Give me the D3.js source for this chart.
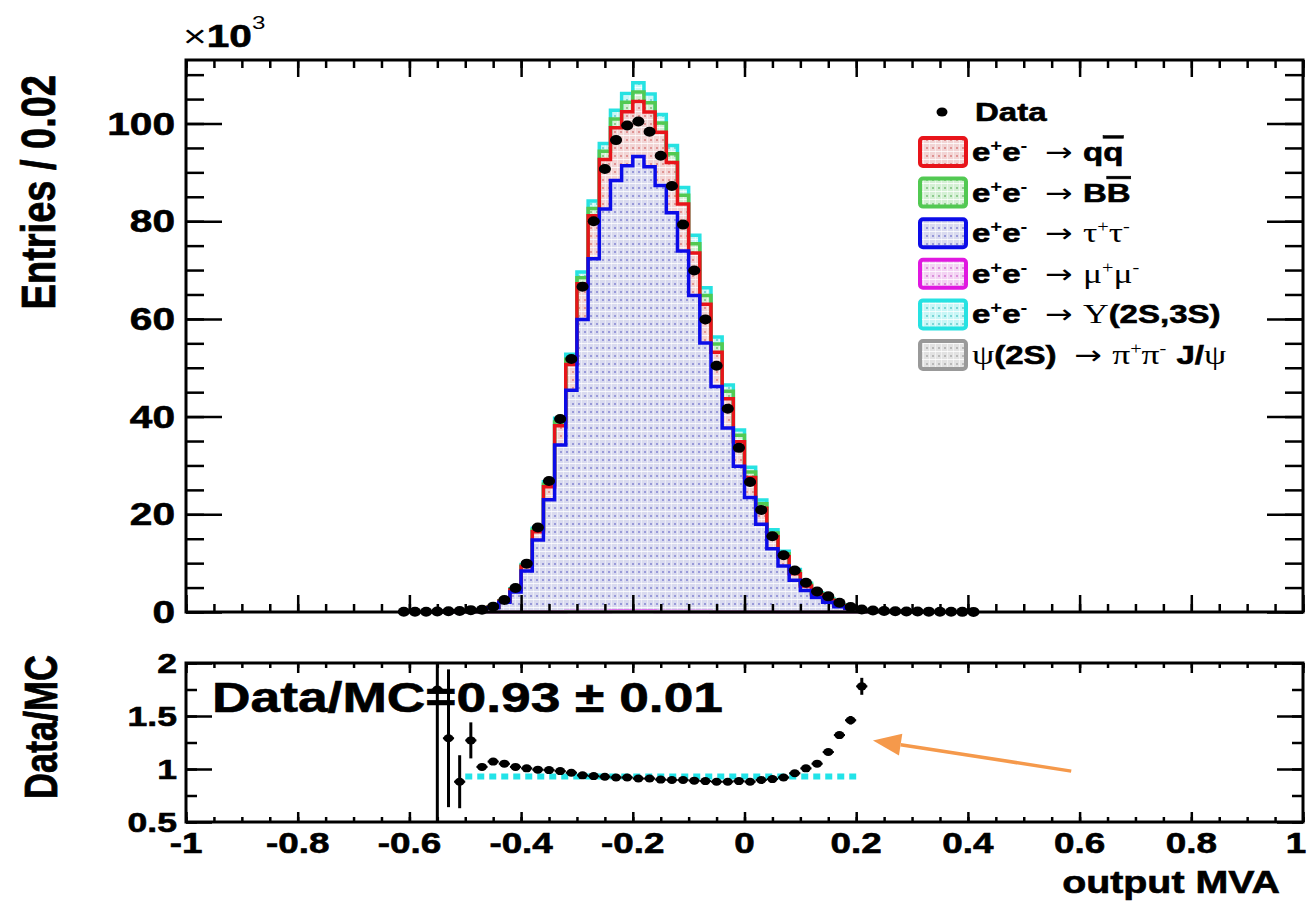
<!DOCTYPE html>
<html>
<head>
<meta charset="utf-8">
<script src="https://cdn.jsdelivr.net/npm/d3@7"></script>
<style>
  body { margin: 0; background: #fff; }
  text { font-family: "Liberation Sans", Arial, sans-serif; font-weight: bold; fill: #000; }
  .heavy { stroke: #000; stroke-width: 0.6; }
</style>
</head>
<body>
<svg id="chart" width="1311" height="901"></svg>
<script>
// ---- data (in units of 10^3 entries, bins of 0.02) ----
var mcCenters = [-0.55,-0.53,-0.51,-0.49,-0.47,-0.45,-0.43,-0.41,-0.39,-0.37,-0.35,-0.33,-0.31,-0.29,-0.27,-0.25,-0.23,-0.21,-0.19,-0.17,
                 -0.15,-0.13,-0.11,-0.09,-0.07,-0.05,-0.03,-0.01,0.01,0.03,0.05,0.07,0.09,0.11,0.13,0.15,0.17,0.19,0.21];

var psiJpsi = [0,0,0,0,0,0,0,0,0.01,0.01,0.02,0.02,0.03,0.03,0.04,0.04,0.04,0.04,0.04,0.04,0.04,0.04,0.03,0.03,0.03,0.02,0.02,0.02,0.01,0.01,0.01,0,0,0,0,0,0,0,0];
var muMu    = [0,0,0,0,0,0,0,0.01,0.02,0.03,0.04,0.05,0.06,0.07,0.08,0.08,0.09,0.09,0.09,0.09,0.08,0.08,0.07,0.07,0.06,0.05,0.05,0.04,0.03,0.03,0.02,0.02,0.01,0.01,0,0,0,0,0];
var tauTau  = [0.04,0.1,0.21,0.26,0.39,0.86,1.98,4.08,8.34,14.7,22.9,34.1,45.3,59.8,72.2,82.4,88.2,91.2,93.1,91.0,
               87.2,81.6,73.8,64.7,55.0,46.1,37.6,29.8,23.4,17.9,12.9,9.4,6.5,4.4,2.95,2.0,1.08,0.52,0.21];
var qqbar   = [0.01,0.02,0.03,0.03,0.05,0.1,0.23,0.48,0.97,1.71,2.66,3.96,5.3,7.3,8.8,10.1,10.8,11.1,11.3,11.2,
               10.9,10.3,9.6,8.7,7.9,7.0,6.0,5.0,4.1,3.3,2.5,1.9,1.3,0.9,0.6,0.4,0.22,0.11,0.04];
var bbbar   = [0,0,0.01,0.01,0.01,0.02,0.05,0.1,0.2,0.35,0.53,0.79,1.05,1.25,1.5,1.7,1.8,1.9,1.9,1.9,
               1.9,1.8,1.8,1.9,1.8,1.7,1.5,1.3,1.1,0.9,0.75,0.6,0.45,0.3,0.2,0.15,0.08,0.04,0.02];
var upsilon = [0,0,0,0,0,0.02,0.04,0.09,0.19,0.34,0.51,0.75,1.0,1.15,1.5,1.6,1.8,1.8,1.9,1.8,
               1.7,1.7,1.6,1.7,1.6,1.4,1.3,1.1,1.0,0.8,0.65,0.5,0.45,0.3,0.2,0.15,0.07,0.03,0.01];

var dataCenters = [-0.61,-0.59,-0.57,-0.55,-0.53,-0.51,-0.49,-0.47,-0.45,-0.43,-0.41,-0.39,-0.37,-0.35,-0.33,-0.31,-0.29,-0.27,-0.25,-0.23,
                   -0.21,-0.19,-0.17,-0.15,-0.13,-0.11,-0.09,-0.07,-0.05,-0.03,-0.01,0.01,0.03,0.05,0.07,0.09,0.11,0.13,0.15,0.17,
                   0.19,0.21,0.23,0.25,0.27,0.29,0.31,0.33,0.35,0.37,0.39,0.41];
var dataVals = [0.05,0.04,0.06,0.1,0.15,0.22,0.38,0.46,1.1,2.45,4.9,9.9,17.3,26.8,39.5,51.8,66.6,80.0,90.7,96.6,
                99.6,100.4,98.3,93.4,87.2,79.3,69.9,59.9,50.4,41.6,33.6,26.6,20.9,15.5,11.6,8.5,6.0,4.2,3.2,1.9,
                1.0,0.5,0.3,0.22,0.15,0.12,0.1,0.07,0.05,0.04,0.03,0.02];

// ratio panel (same bins as MC)
var ratioVals = [1.75,1.29,0.88,1.27,1.02,1.07,1.05,1.02,1.006,0.994,0.99,0.98,0.965,0.94,0.933,0.927,0.92,0.92,0.91,0.91,
                 0.90,0.896,0.896,0.89,0.886,0.88,0.88,0.886,0.88,0.896,0.905,0.92,0.96,1.006,1.05,1.16,1.32,1.46,1.78];
var ratioErrs = [2.0,0.65,0.25,0.17,0.03,0.02,0.015,0.01,0.01,0.01,0.01,0.01,0.01,0.01,0.01,0.01,0.01,0.01,0.01,0.01,
                 0.01,0.01,0.01,0.01,0.01,0.01,0.01,0.01,0.01,0.01,0.01,0.01,0.01,0.015,0.02,0.02,0.03,0.04,0.08];
var fitValue = 0.93, fitRange = [-0.5, 0.2];

var xTicks = [-1,-0.8,-0.6,-0.4,-0.2,0,0.2,0.4,0.6,0.8,1];
var xTickLabels = ['-1','-0.8','-0.6','-0.4','-0.2','0','0.2','0.4','0.6','0.8','1'];
var yTicks = [0,20,40,60,80,100];
var yTickLabels = ['0','20','40','60','80','100'];
var rTicks = [0.5,1,1.5,2];
var rTickLabels = ['0.5','1','1.5','2'];

var binW = 0.02;
var SX = 1.27;   // text in the reference is stretched sideways

var svg = d3.select('#chart');
var defs = svg.append('defs');

var x  = d3.scaleLinear().domain([-1, 1]).range([186, 1303]);
var y  = d3.scaleLinear().domain([0, 113]).range([612, 60]);
var yr = d3.scaleLinear().domain([0.5, 2]).range([822, 663]);

// fill patterns, roughly like ROOT's dotted hatch
function pattern(id, bg, dot) {
    var p = defs.append('pattern').attr('id', id).attr('patternUnits', 'userSpaceOnUse')
        .attr('width', 6).attr('height', 8);
    p.append('rect').attr('width', 6).attr('height', 8).attr('fill', bg);
    p.append('rect').attr('y', 7).attr('width', 6).attr('height', 1).attr('fill', '#fff').attr('opacity', 0.8);
    p.append('rect').attr('x', 5).attr('width', 1).attr('height', 8).attr('fill', '#fff').attr('opacity', 0.5);
    p.append('rect').attr('x', 2).attr('y', 3).attr('width', 2).attr('height', 2).attr('fill', dot).attr('opacity', 0.45);
}

var comps = [
    {key: 'psi',  vals: psiJpsi, line: '#999999', bg: '#e2e2e2', dot: '#888'},
    {key: 'mumu', vals: muMu,    line: '#e018e0', bg: '#f3d3f3', dot: '#c040c0'},
    {key: 'tau',  vals: tauTau,  line: '#0c0ce8', bg: '#d9daef', dot: '#4a4ac0'},
    {key: 'qq',   vals: qqbar,   line: '#e8141a', bg: '#f2d4d4', dot: '#c84848'},
    {key: 'bb',   vals: bbbar,   line: '#52c952', bg: '#d4f0d4', dot: '#40a040'},
    {key: 'ups',  vals: upsilon, line: '#26e2e2', bg: '#c8f6f6', dot: '#20b0b0'}
];
comps.forEach(function(c) { pattern('pat-' + c.key, c.bg, c.dot); });

var rows = mcCenters.map(function(c, i) {
    var r = {c: c};
    comps.forEach(function(k) { r[k.key] = k.vals[i]; });
    return r;
});
var layers = d3.stack().keys(comps.map(function(c) { return c.key; }))(rows);

function stepPoints(layer) {
    var pts = layer.map(function(d) { return [d.data.c - binW / 2, d[1]]; });
    var last = layer[layer.length - 1];
    pts.push([last.data.c + binW / 2, last[1]]);
    return pts;
}

var area = d3.area().curve(d3.curveStepAfter)
    .x(function(d) { return x(d[0]); }).y0(y(0)).y1(function(d) { return y(d[1]); });
var stepLine = d3.line().curve(d3.curveStepAfter)
    .x(function(d) { return x(d[0]); }).y(function(d) { return y(d[1]); });

var histG = svg.append('g');
// fills from the biggest cumulative down, then outlines
for (var i = layers.length - 1; i >= 0; i--) {
    histG.append('path').attr('d', area(stepPoints(layers[i])))
        .attr('fill', 'url(#pat-' + comps[i].key + ')');
}
for (var i = layers.length - 1; i >= 0; i--) {
    var pts = stepPoints(layers[i]);
    pts.unshift([pts[0][0], 0]);
    pts.push([pts[pts.length - 1][0], 0]);
    histG.append('path').attr('d', stepLine(pts)).attr('fill', 'none')
        .attr('stroke', comps[i].line).attr('stroke-width', 3.5);
}

// data points
var dg = svg.append('g');
dataCenters.forEach(function(c, i) {
    dg.append('line').attr('x1', x(c - binW / 2)).attr('x2', x(c + binW / 2))
        .attr('y1', y(dataVals[i])).attr('y2', y(dataVals[i]))
        .attr('stroke', '#000').attr('stroke-width', 2.5);
    dg.append('ellipse').attr('cx', x(c)).attr('cy', y(dataVals[i]))
        .attr('rx', 6).attr('ry', 5).attr('fill', '#000');
});

// ---- axes helpers ----
function tickSet(g, axisFn, scale, vals, size, tx, ty) {
    g.append('g').attr('transform', 'translate(' + tx + ',' + ty + ')')
        .call(axisFn(scale).tickValues(vals).tickSize(size).tickSizeOuter(0).tickFormat(''))
        .call(function(s) { s.select('.domain').remove(); })
        .selectAll('line').attr('stroke', '#000').attr('stroke-width', 2.5);
}
function label(g, px, py, s, size, anchor, rotate) {
    return g.append('text')
        .attr('class', 'heavy')
        .attr('transform', 'translate(' + px + ',' + py + ') scale(' + SX + ',1)' + (rotate ? ' rotate(-90)' : ''))
        .attr('text-anchor', anchor || 'start')
        .attr('font-size', size)
        .text(s);
}

var ax = svg.append('g');
var xMinor = d3.range(-1, 1.0001, 0.05);
var yMinor = d3.range(0, 113, 5);
var rMinor = d3.range(0.5, 2.0001, 0.25);

// top panel frame + ticks
ax.append('rect').attr('x', 186).attr('y', 60).attr('width', 1303 - 186).attr('height', 612 - 60)
    .attr('fill', 'none').attr('stroke', '#000').attr('stroke-width', 3);
tickSet(ax, d3.axisBottom, x, xTicks, -17, 0, 612);
tickSet(ax, d3.axisBottom, x, xMinor, -8, 0, 612);
tickSet(ax, d3.axisTop, x, xTicks, -17, 0, 60);
tickSet(ax, d3.axisTop, x, xMinor, -8, 0, 60);
tickSet(ax, d3.axisLeft, y, yTicks, -36, 186, 0);
tickSet(ax, d3.axisLeft, y, yMinor, -18, 186, 0);
tickSet(ax, d3.axisRight, y, yTicks, -36, 1303, 0);
tickSet(ax, d3.axisRight, y, yMinor, -18, 1303, 0);
yTicks.forEach(function(v, i) { label(ax, 175, y(v) + 11, yTickLabels[i], 32, 'end'); });

label(ax, 55, 75, 'Entries / 0.02', 38, 'end', true);
var t10 = ax.append('text').attr('transform', 'translate(183,47) scale(' + SX + ',1)').attr('font-size', 32);
t10.append('tspan').attr('font-weight', 'normal').text('\u00d7');
t10.append('tspan').attr('class', 'heavy').text('10');
t10.append('tspan').attr('font-size', 19).attr('font-weight', 'normal').attr('dy', -18).text('3');

// ---- ratio panel ----
var rp = svg.append('g');
rp.append('clipPath').attr('id', 'rclip').append('rect')
    .attr('x', 186).attr('y', 663).attr('width', 1303 - 186).attr('height', 822 - 663);

rp.append('line').attr('x1', x(fitRange[0])).attr('x2', x(fitRange[1]))
    .attr('y1', yr(fitValue)).attr('y2', yr(fitValue))
    .attr('stroke', '#22e3e8').attr('stroke-width', 6).attr('stroke-dasharray', '7,5');

var rpts = rp.append('g').attr('clip-path', 'url(#rclip)');
mcCenters.forEach(function(c, i) {
    var v = ratioVals[i], e = ratioErrs[i];
    rpts.append('line').attr('x1', x(c)).attr('x2', x(c))
        .attr('y1', yr(v - e)).attr('y2', yr(v + e)).attr('stroke', '#000').attr('stroke-width', 3);
    rpts.append('line').attr('x1', x(c - binW / 2)).attr('x2', x(c + binW / 2))
        .attr('y1', yr(v)).attr('y2', yr(v)).attr('stroke', '#000').attr('stroke-width', 2);
    rpts.append('ellipse').attr('cx', x(c)).attr('cy', yr(v)).attr('rx', 5).attr('ry', 4).attr('fill', '#000');
});

rp.append('rect').attr('x', 186).attr('y', 663).attr('width', 1303 - 186).attr('height', 822 - 663)
    .attr('fill', 'none').attr('stroke', '#000').attr('stroke-width', 3);
tickSet(rp, d3.axisBottom, x, xTicks, -10, 0, 822);
tickSet(rp, d3.axisBottom, x, xMinor, -5, 0, 822);
tickSet(rp, d3.axisTop, x, xTicks, -10, 0, 663);
tickSet(rp, d3.axisTop, x, xMinor, -5, 0, 663);
tickSet(rp, d3.axisLeft, yr, rTicks, -26, 186, 0);
tickSet(rp, d3.axisLeft, yr, rMinor, -11, 186, 0);
tickSet(rp, d3.axisRight, yr, rTicks, -26, 1303, 0);
tickSet(rp, d3.axisRight, yr, rMinor, -11, 1303, 0);
rTicks.forEach(function(v, i) { label(rp, 177, yr(v) + 10, rTickLabels[i], 28, 'end'); });
xTicks.forEach(function(v, i) {
    // keep the last label inside the page
    var px = Math.min(x(v), 1296);
    label(rp, px, 853, xTickLabels[i], 29, 'middle');
});

label(rp, 57, 727, 'Data/MC', 36, 'middle', true);
label(rp, 1280, 893, 'output MVA', 31, 'end');
label(rp, 212, 712, 'Data/MC=0.93 \u00b1 0.01', 42, 'start');

// orange arrow pointing at the high-MVA excess
var arrowFrom = [0.585, 0.98], arrowTo = [0.23, 1.27];
var ax0 = x(arrowFrom[0]), ay0 = yr(arrowFrom[1]), ax1 = x(arrowTo[0]), ay1 = yr(arrowTo[1]);
var ang = Math.atan2(ay1 - ay0, ax1 - ax0), hl = 28, hw = 11;
var bx = ax1 - hl * Math.cos(ang), by = ay1 - hl * Math.sin(ang);
rp.append('line').attr('x1', ax0).attr('y1', ay0).attr('x2', bx).attr('y2', by)
    .attr('stroke', '#f5994b').attr('stroke-width', 3.5);
rp.append('polygon').attr('fill', '#f5994b').attr('points', [
    [ax1, ay1],
    [bx + hw * Math.sin(ang), by - hw * Math.cos(ang)],
    [bx - hw * Math.sin(ang), by + hw * Math.cos(ang)]
].map(function(p) { return p.join(','); }).join(' '));

// ---- legend ----
var lg = svg.append('g');
var legendItems = [
    {key: 'qq',   parts: [['e'],['+','sup'],['e'],['-','sup'],['\u2192','arr'],['q','after'],['q','over']]},
    {key: 'bb',   parts: [['e'],['+','sup'],['e'],['-','sup'],['\u2192','arr'],['B','after'],['B','over']]},
    {key: 'tau',  parts: [['e'],['+','sup'],['e'],['-','sup'],['\u2192','arr'],['\u03c4','symafter'],['+','ssup'],['\u03c4','sym'],['-','ssup']]},
    {key: 'mumu', parts: [['e'],['+','sup'],['e'],['-','sup'],['\u2192','arr'],['\u03bc','symafter'],['+','ssup'],['\u03bc','sym'],['-','ssup']]},
    {key: 'ups',  parts: [['e'],['+','sup'],['e'],['-','sup'],['\u2192','arr'],['\u03a5','symafter'],['(2S,3S)']]},
    {key: 'psi',  parts: [['\u03c8','sym'],['(2S)'],['\u2192','arr'],['\u03c0','symafter'],['+','ssup'],['\u03c0','sym'],['-','ssup'],['J/','after'],['\u03c8','sym']]}
];
var compByKey = {};
comps.forEach(function(c) { compByKey[c.key] = c; });

var rowY0 = 152, rowStep = 40.6;
lg.append('ellipse').attr('cx', 942).attr('cy', 112).attr('rx', 5.5).attr('ry', 4.5).attr('fill', '#000');
label(lg, 975, 121, 'Data', 26, 'start');

legendItems.forEach(function(item, i) {
    var cy = rowY0 + i * rowStep;
    var c = compByKey[item.key];
    lg.append('rect').attr('x', 920).attr('y', cy - 14).attr('width', 46).attr('height', 28).attr('rx', 3)
        .attr('fill', 'url(#pat-' + c.key + ')').attr('stroke', c.line).attr('stroke-width', 4);
    var t = lg.append('text').attr('transform', 'translate(972,' + (cy + 9) + ') scale(' + SX + ',1)')
        .attr('font-size', 26);
    var shift = 0;
    item.parts.forEach(function(p) {
        var kind = p[1] || '';
        var s = t.append('tspan').text(p[0]);
        var want = 0;
        if (kind === 'sup' || kind === 'ssup') {
            want = -10;
            s.attr('font-size', 16);
            if (kind === 'ssup') s.attr('font-family', 'Liberation Serif').attr('font-weight', 'normal');
        } else if (kind === 'arr') {
            s.attr('font-family', 'DejaVu Sans').attr('font-weight', 'normal').attr('dx', 14);
        } else if (kind === 'sym' || kind === 'symafter') {
            s.attr('font-family', 'Liberation Serif').attr('font-weight', 'normal').attr('font-size', 28);
        } else {
            s.attr('class', 'heavy');
            if (kind === 'over') s.style('text-decoration', 'overline');
        }
        if (kind === 'after' || kind === 'symafter') s.attr('dx', 8);
        if (want !== shift) { s.attr('dy', want - shift); shift = want; }
    });
});
</script>
</body>
</html>
